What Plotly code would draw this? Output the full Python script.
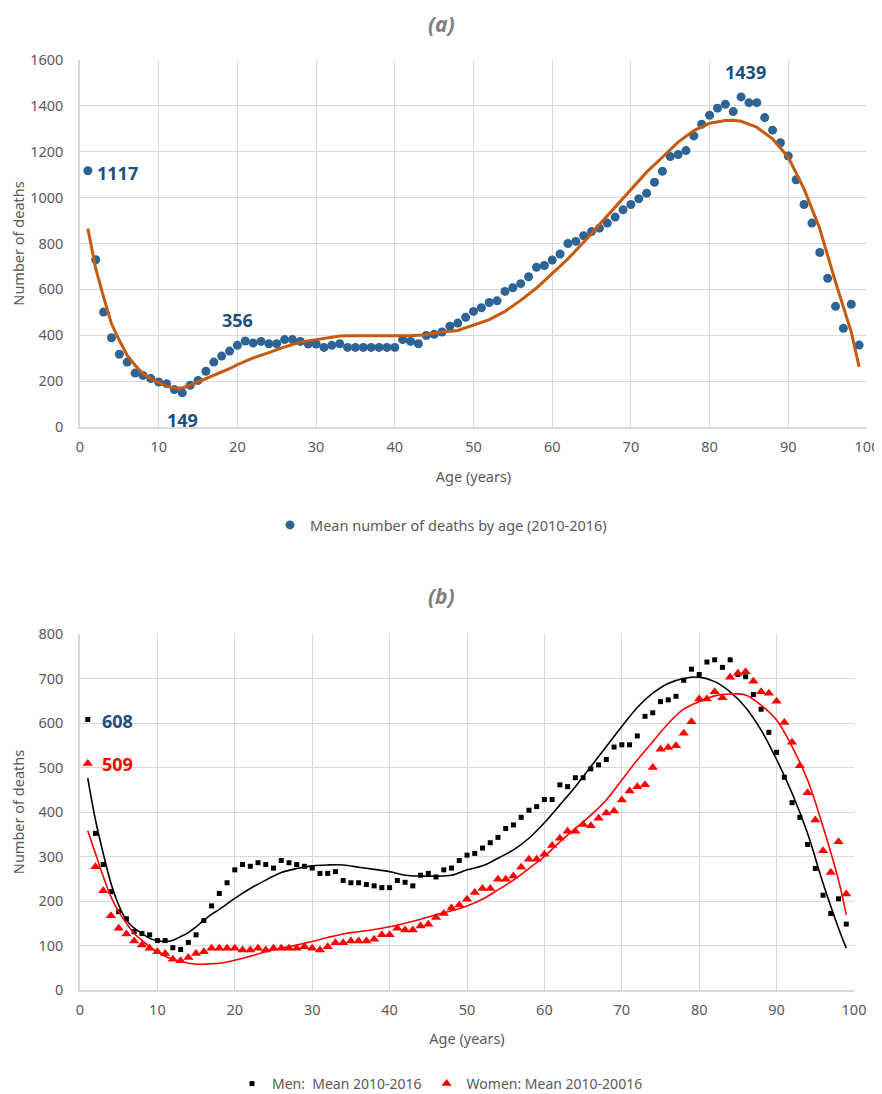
import plotly.graph_objects as go

# ---------------- data ----------------
ages = list(range(1, 100))

total_deaths = [1117, 729, 501, 389, 317, 283, 235, 225, 211, 196,
                189, 163, 149, 182, 203, 243, 283, 309, 331, 356,
                375, 366, 373, 363, 363, 381, 381, 373, 362, 362,
                347, 356, 363, 347, 347, 347, 347, 347, 347, 347,
                381, 373, 363, 399, 404, 414, 439, 453, 478, 504,
                520, 543, 550, 591, 607, 625, 655, 696, 704, 728,
                754, 800, 809, 834, 852, 867, 889, 915, 947, 970,
                995, 1019, 1067, 1115, 1179, 1188, 1205, 1269, 1320, 1359,
                1390, 1407, 1375, 1439, 1414, 1414, 1349, 1294, 1239, 1181,
                1078, 970, 889, 761, 648, 526, 430, 535, 357]

trend_a_ages = [1, 2, 3, 4, 5, 6, 7, 8, 9, 10, 11, 12, 13, 14, 15, 16, 17, 18, 19, 20,
                22, 24, 26, 28, 30, 32, 33, 34, 36, 38, 40, 42, 44, 46, 48, 50,
                52, 54, 56, 58, 60, 62, 64, 66, 68, 70, 72, 74, 76, 78, 80,
                82, 83, 84, 86, 88, 90, 92, 94, 96, 98, 99]
trend_a = [865, 690, 566, 450, 378, 312, 269, 232, 211, 193, 177, 170, 170, 182, 196, 211, 225, 240, 254, 272,
           301, 324, 349, 370, 381, 389, 397, 398, 398, 398, 398, 398, 402, 414, 421, 443,
           468, 504, 552, 606, 668, 733, 806, 882, 958, 1038, 1111, 1176, 1242, 1292, 1324,
           1336, 1337, 1333, 1307, 1256, 1176, 1038, 864, 632, 414, 262]

men_deaths = [608, 352, 282, 221, 176, 160, 131, 127, 124, 111,
              111, 95, 91, 107, 124, 156, 189, 217, 241, 270,
              282, 278, 286, 282, 274, 291, 286, 282, 278, 274,
              262, 262, 266, 246, 241, 241, 237, 234, 230, 230,
              246, 242, 234, 258, 262, 254, 270, 274, 291, 303,
              307, 319, 331, 343, 363, 371, 388, 404, 412, 428,
              428, 461, 457, 477, 477, 497, 506, 518, 546, 551,
              551, 571, 615, 623, 648, 652, 660, 696, 721, 709,
              737, 742, 725, 742, 709, 704, 664, 631, 579, 534,
              478, 421, 388, 327, 273, 213, 172, 205, 148]

women_deaths = [509, 277, 223, 167, 139, 126, 110, 101, 94, 86,
                82, 69, 66, 73, 82, 86, 94, 94, 94, 94,
                90, 90, 94, 90, 94, 94, 94, 94, 97, 94,
                90, 97, 106, 106, 110, 110, 110, 114, 124, 124,
                139, 135, 135, 144, 148, 163, 172, 184, 191, 204,
                219, 228, 228, 249, 249, 256, 276, 294, 294, 305,
                325, 341, 357, 357, 372, 369, 386, 398, 402, 427,
                447, 457, 461, 500, 541, 545, 549, 577, 603, 654,
                654, 670, 657, 703, 712, 715, 694, 670, 667, 649,
                601, 557, 504, 443, 382, 313, 264, 333, 216]

trend_b_ages = [1, 2, 3, 4, 5, 6, 7, 8, 9, 10, 11, 12, 13, 14, 15, 16, 17, 18, 20,
                22, 24, 26, 28, 30, 32, 34, 36, 38, 40, 42, 44, 46, 48, 50,
                52, 54, 56, 58, 60, 62, 64, 66, 68, 70, 72, 74, 76, 78, 80,
                82, 84, 86, 88, 90, 92, 94, 96, 98, 99]
men_trend = [476, 382, 307, 240, 191, 157, 139, 127, 116, 111, 109, 112, 120, 129, 142, 157, 170, 181, 206,
             228, 247, 264, 273, 279, 281, 281, 276, 271, 266, 258, 256, 256, 258, 270,
             279, 296, 315, 341, 376, 416, 457, 502, 547, 592, 635, 667, 689, 700, 703,
             693, 670, 635, 584, 518, 442, 352, 240, 139, 94]
women_trend = [358, 307, 255, 210, 176, 150, 127, 112, 97, 86, 76, 69, 64, 60, 58, 58, 59, 60, 67,
               76, 86, 94, 101, 109, 118, 126, 131, 136, 142, 150, 159, 169, 178, 189,
               204, 225, 247, 273, 300, 333, 363, 393, 427, 472, 517, 558, 599, 631, 648,
               661, 665, 663, 640, 607, 547, 472, 367, 247, 169]

x_ticks = [0, 10, 20, 30, 40, 50, 60, 70, 80, 90, 100]
ya_ticks = [0, 200, 400, 600, 800, 1000, 1200, 1400, 1600]
yb_ticks = [0, 100, 200, 300, 400, 500, 600, 700, 800]

# ---------------- styles ----------------
FONT = "Noto Sans"
TICK_COL = "#595959"
GRID_COL = "#d9d9d9"
BLUE = "#2E6396"
DARKBLUE = "#1F4E79"
ORANGE = "#C55A11"

fig = go.Figure()

fig.add_trace(go.Scatter(
    x=ages, y=total_deaths, mode="markers", name="Mean number of deaths by age (2010-2016)",
    marker=dict(symbol="circle", size=9, color=BLUE), xaxis="x", yaxis="y", legend="legend"))
fig.add_trace(go.Scatter(
    x=trend_a_ages, y=trend_a, mode="lines", showlegend=False,
    line=dict(color=ORANGE, width=3), xaxis="x", yaxis="y"))

fig.add_trace(go.Scatter(
    x=ages, y=men_deaths, mode="markers", name="Men:  Mean 2010-2016",
    marker=dict(symbol="square", size=5, color="black"), xaxis="x2", yaxis="y2", legend="legend2"))
fig.add_trace(go.Scatter(
    x=ages, y=women_deaths, mode="markers", name="Women: Mean 2010-20016",
    marker=dict(symbol="triangle-up", size=9, color="#FF0000"), xaxis="x2", yaxis="y2", legend="legend2"))
fig.add_trace(go.Scatter(
    x=trend_b_ages, y=men_trend, mode="lines", showlegend=False,
    line=dict(color="black", width=1.6, shape="spline"), xaxis="x2", yaxis="y2"))
fig.add_trace(go.Scatter(
    x=trend_b_ages, y=women_trend, mode="lines", showlegend=False,
    line=dict(color="#FF0000", width=1.6, shape="spline"), xaxis="x2", yaxis="y2"))

# The page body has an 8px default margin: size the figure so it fits the window
OFF = 8
W, H = 882 - OFF, 1094 - OFF
def px_x(p):
    return (p - OFF) / W
def px_y(p):
    return 1 - (p - OFF) / H

axis_common = dict(
    automargin=False,
    showgrid=True, gridcolor=GRID_COL, gridwidth=1,
    showline=True, linecolor=GRID_COL, linewidth=1.5,
    zeroline=False, ticks="", tickfont=dict(family=FONT, size=14.5, color=TICK_COL),
    title_font=dict(family=FONT, size=14.5, color=TICK_COL),
)

fig.update_layout(
    width=W, height=H, paper_bgcolor="white", plot_bgcolor="white",
    margin=dict(l=0, r=0, t=0, b=0, autoexpand=False),
    font=dict(family=FONT, color=TICK_COL),
    xaxis=dict(domain=[px_x(80), px_x(867)], anchor="y", range=[0, 100], tickvals=x_ticks,
               ticklabelstandoff=6,
               title=dict(text="Age (years)", standoff=17), **axis_common),
    yaxis=dict(domain=[px_y(427), px_y(60)], anchor="x", range=[0, 1600], tickvals=ya_ticks,
               ticklabelstandoff=12,
               title=dict(text="Number of deaths", standoff=13), **axis_common),
    xaxis2=dict(domain=[px_x(80), px_x(854)], anchor="y2", range=[0, 100], tickvals=x_ticks,
                ticklabelstandoff=6,
                title=dict(text="Age (years)", standoff=16), **axis_common),
    yaxis2=dict(domain=[px_y(990), px_y(634)], anchor="x2", range=[0, 800], tickvals=yb_ticks,
                ticklabelstandoff=12,
                title=dict(text="Number of deaths", standoff=11), **axis_common),
    legend=dict(orientation="h", x=px_x(441), xanchor="center", y=px_y(525), yanchor="middle",
                font=dict(family=FONT, size=14.5, color=TICK_COL), bgcolor="rgba(0,0,0,0)"),
    legend2=dict(orientation="h", x=px_x(440), xanchor="center", y=px_y(1084), yanchor="middle",
                 font=dict(family=FONT, size=14, color=TICK_COL), bgcolor="rgba(0,0,0,0)",
                 itemwidth=30, tracegroupgap=0),
    showlegend=True,
)

def label(text, x, y, xref, yref, size, color, yanchor="middle"):
    return dict(text=text, x=x, y=y, xref=xref, yref=yref, showarrow=False,
                xanchor="center", yanchor=yanchor, font=dict(family=FONT, size=size, color=color))

annotations = [
    label("<b><i>(a)</i></b>", px_x(441), 1.0, "paper", "paper", 21, "#7F7F7F", yanchor="top"),
    label("<b><i>(b)</i></b>", px_x(441), px_y(596), "paper", "paper", 21, "#7F7F7F"),
    label("<b>1117</b>", 4.8, 1108, "x", "y", 18, DARKBLUE),
    label("<b>356</b>", 20.0, 468, "x", "y", 18, DARKBLUE),
    label("<b>149</b>", 13.0, 30, "x", "y", 18, DARKBLUE),
    label("<b>1439</b>", 84.5, 1548, "x", "y", 18, DARKBLUE),
    label("<b>608</b>", 4.9, 605, "x2", "y2", 18, DARKBLUE),
    label("<b>509</b>", 4.9, 508, "x2", "y2", 18, "#FF0000"),
]
fig.update_layout(annotations=annotations)

fig.write_html("out.html")
